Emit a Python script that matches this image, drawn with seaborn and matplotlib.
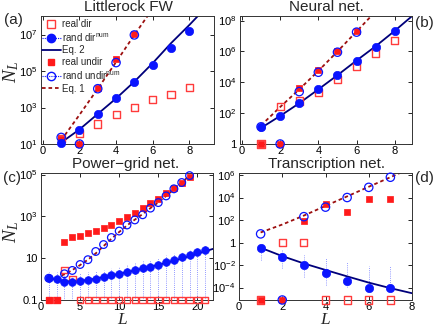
import numpy as np
import pandas as pd
import matplotlib
matplotlib.use("Agg")
import matplotlib.pyplot as plt
import seaborn as sns
from matplotlib.lines import Line2D
from matplotlib.ticker import FixedLocator, FixedFormatter, NullLocator

sns.set_style("ticks")
plt.rcParams["font.family"] = ["Liberation Sans", "DejaVu Sans"]
plt.rcParams["mathtext.fontset"] = "custom"
plt.rcParams["mathtext.rm"] = "Liberation Sans"
plt.rcParams["mathtext.it"] = "Liberation Serif:italic"
plt.rcParams["mathtext.bf"] = "Liberation Sans:bold"

RED = "#ff1a1a"
OPENRED = "#ff3b3b"
BLUE = "#0a14ff"
EBLUE = "#5560ff"
NAVY = "#00007a"
DRED = "#9c0f0f"

# ---------------- data ----------------
# (a) Littlerock FW
a_L = [1, 2, 3, 4, 5, 6, 7, 8]
a_real_dir = [20, 39, 126, 400, 1050, 2650, 5600, 13000]
a_rand_dir = [11, 60, 430, 3200, 27000, 2.2e5, 1.9e6, 1.7e7]
a_Lu = [1, 2, 3, 4, 5]
a_real_undir = [18, 0, 1.15e4, 4.5e5, 1.1e7]
a_rand_undir = [23, 0, 1.1e4, 3.0e5, 1.0e7]
a_eq2_L = [1, 2, 3, 4, 5, 6, 7, 8, 9]
a_eq2 = [12, 63, 450, 3200, 27000, 2.8e5, 3.5e6, 3.5e7, 4e8]
a_eq1_L = [1, 2, 3, 4, 5, 6]
a_eq1 = [16, 400, 1.1e4, 3.2e5, 1.0e7, 2.8e8]

# (b) Neural net.
b_L = [1, 2, 3, 4, 5, 6, 7, 8]
b_real_dir = [0, 265, 615, 2300, 1.5e4, 1.1e5, 8e5, 5.2e6]
b_rand_dir = [12, 66, 440, 3500, 2.9e4, 2.6e5, 2.1e6, 2.2e7]
b_Lu = [1, 2, 3, 4, 5, 6]
b_real_undir = [0, 0, 4500, 6.7e4, 1.1e6, 2.0e7]
b_rand_undir = [13, 0, 2500, 4.5e4, 9e5, 1.8e7]
b_eq2_L = [1, 2, 3, 4, 5, 6, 7, 8, 9]
b_eq2 = [11, 66, 440, 3500, 2.9e4, 2.6e5, 2.2e6, 2.2e7, 2.5e8]
b_eq1_L = [1, 2, 3, 4, 5, 6, 7]
b_eq1 = [16, 250, 3500, 5.5e4, 1.0e6, 2.0e7, 4e8]

# (c) Power-grid net.
c_L = list(range(1, 22))
c_real_dir = [0, 0, 2.8, 1.0] + [0] * 17
c_rand_dir = [1.1, 1.0, 0.76, 0.76, 0.79, 0.92, 1.0, 1.24, 1.5, 1.8, 2.1,
              2.6, 3.4, 4.0, 4.9, 6.6, 8.5, 11.5, 14.7, 20, 25.7]
c_rand_dir_hi = [2.3, 2.3, 2.0, 2.0, 2.0, 2.2, 2.4, 2.8, 3.3, 4.0, 4.7,
                 5.6, 7.0, 8.5, 10.5, 13.5, 17, 22, 28, 36, 45]
c_rand_dir_lo = [0] * 21
c_Lu = list(range(1, 20))
c_real_undir = [0, 0, 60, 100, 120, 155, 200, 280, 400, 600, 950, 1500,
                2500, 4200, 7000, 1.3e4, 2.3e4, 4.2e4, 8e4]
c_rand_undir = [1.1, None, 1.8, 2.6, 5.0, 8.5, 21, 45, 98, 200, 390, 680,
                1200, 2500, 4600, 9600, 2.1e4, 4.2e4, 9e4]
c_eq2_L = list(range(1, 23))
c_eq2 = [1.1, 0.95, 0.8, 0.78, 0.82, 0.92, 1.05, 1.25, 1.5, 1.8, 2.15,
         2.6, 3.2, 3.9, 4.8, 6.0, 7.6, 9.8, 12.5, 16.5, 21.5, 28]
c_eq1_L = list(range(1, 20))
c_eq1 = [1.1, 1.2, 1.7, 2.7, 4.7, 8.5, 17, 38, 85, 180, 370, 700,
         1300, 2500, 4700, 9500, 2.0e4, 4.2e4, 9e4]

# (d) Transcription net.
d_L = [1, 2, 3, 4, 5, 6, 7]
d_real_dir = [0, 1.0, 1.0, 0, 0, 0, 0]
d_rand_dir = [0.36, 0.057, 0.0104, 0.0019, 4e-4, 9e-5, 9e-5]
d_rand_dir_hi = [0.87, 0.26, 0.081, 0.041, 0.02, 0.0085, 0.0085]
d_rand_dir_lo = [0.029, 0.0053, 9.6e-4, 1.7e-4, 1.25e-4, 4.5e-5, 5e-5]
d_real_undir = [0, 0, 83, 2500, 560, 7500, 7500]
d_rand_undir = [5.9, 0, 200, 1400, 1.0e4, 8e4, 6.3e5]
d_eq2_L = [1, 2, 3, 4, 5, 6, 7, 8]
d_eq2 = [0.35, 0.063, 0.014, 0.0037, 1.0e-3, 2.8e-4, 9e-5, 3.2e-5]
d_eq1_L = [1, 2, 3, 4, 5, 6, 7, 8]
d_eq1 = [7.9, 40, 250, 1800, 1.26e4, 9e4, 6.3e5, 4.5e6]

W, H = 436, 327
fig = plt.figure(figsize=(W / 100, H / 100), dpi=100)


def rect(l, t, r, b):
    return [l / W, 1 - b / H, (r - l) / W, (b - t) / H]


def markers(ax, x, y, ymin, marker, size, face, edge, lw=1.0, z=3):
    pts = [(xi, (yi if yi > 0 else ymin)) for xi, yi in zip(x, y)
           if yi is not None]
    xx = [p[0] for p in pts]
    yy = [p[1] for p in pts]
    sns.scatterplot(x=xx, y=yy, marker=marker, s=size, facecolor=face,
                    edgecolor=edge, linewidth=lw, ax=ax, clip_on=False,
                    zorder=z, legend=False)


def setup(ax, xlim, ylim, xt, yt, ytl, xtl=None):
    ax.set_yscale("log")
    ax.set_xlim(*xlim)
    ax.set_ylim(*ylim)
    ax.xaxis.set_major_locator(FixedLocator(xt))
    ax.xaxis.set_major_formatter(FixedFormatter(xtl if xtl else [str(v) for v in xt]))
    ax.xaxis.set_minor_locator(NullLocator())
    ax.yaxis.set_major_locator(FixedLocator(yt))
    ax.yaxis.set_major_formatter(FixedFormatter(ytl))
    ax.yaxis.set_minor_locator(NullLocator())
    ax.tick_params(direction="in", length=3, width=0.6, labelsize=8,
                   top=True, right=True, pad=2.5, colors="black")
    ax.tick_params(axis="x", pad=1.5)
    for s in ax.spines.values():
        s.set_linewidth(0.7)
        s.set_color("#333333")
    ax.set_xlabel("")
    ax.set_ylabel("")


def panel(ax, Ld, real_dir, rand_dir, Lu, real_undir, rand_undir,
          e2L, e2, e1L, e1, ylim, hi=None, lo=None, ms=1.0):
    ymin = ylim[0]
    sns.lineplot(x=e2L, y=e2, color=NAVY, lw=1.3, ax=ax, zorder=2,
                 legend=False)
    sns.lineplot(x=e1L, y=e1, color=DRED, lw=1.3, ax=ax, zorder=2,
                 linestyle=(0, (2.0, 1.6)), legend=False)
    if hi is not None:
        yv = np.array(rand_dir, float)
        eb = ax.errorbar(Ld, yv, yerr=[yv - np.array(lo), np.array(hi) - yv],
                         fmt="none", ecolor=EBLUE, elinewidth=0.55, capsize=0,
                         zorder=1)
        eb[2][0].set_linestyle((0, (1, 1.8)))
    markers(ax, Ld, real_dir, ymin, "s", 26 * ms, "none", OPENRED, 1.0, 3)
    markers(ax, Lu, real_undir, ymin, "s", 22 * ms, RED, RED, 0.5, 4)
    markers(ax, Ld, rand_dir, ymin, "o", 36 * ms, BLUE, BLUE, 0.5, 5)
    markers(ax, Lu, rand_undir, ymin, "o", 36 * ms, "none", BLUE, 0.9, 6)


# (a)
axa = fig.add_axes(rect(41, 16, 214, 144))
panel(axa, a_L, a_real_dir, a_rand_dir, a_Lu, a_real_undir, a_rand_undir,
      a_eq2_L, a_eq2, a_eq1_L, a_eq1, (10, 1.1e8))
setup(axa, (-0.1, 9.35), (10, 1.1e8), [0, 2, 4, 6, 8],
      [10, 1e3, 1e5, 1e7], [r"$10^{1}$", r"$10^{3}$", r"$10^{5}$", r"$10^{7}$"])

handles = [
    Line2D([], [], ls="none", marker="s", mfc="none", mec=OPENRED, ms=5.5, mew=1.0),
    Line2D([], [], color=BLUE, ls=(0, (1, 1)), lw=0.8, marker="o", mfc=BLUE, mec=BLUE, ms=6),
    Line2D([], [], color=NAVY, lw=1.3),
    Line2D([], [], ls="none", marker="s", mfc=RED, mec=RED, ms=5),
    Line2D([], [], color=BLUE, ls=(0, (1, 1)), lw=0.8, marker="o", mfc="none", mec=BLUE, ms=6),
    Line2D([], [], color=DRED, lw=1.3, ls=(0, (2.0, 1.6))),
]
labels = ["real dir", r"rand dir$^{\rm num}$", "Eq. 2", "real undir",
          r"rand undir$^{\rm num}$", "Eq. 1"]
axa.legend(handles, labels, loc="upper left", frameon=False, fontsize=7,
           handlelength=1.9, handletextpad=0.15, labelspacing=0.22,
           borderaxespad=0.1, borderpad=0.2, bbox_to_anchor=(-0.01, 1.0))

# (b)
axb = fig.add_axes(rect(240, 16, 412, 144))
panel(axb, b_L, b_real_dir, b_rand_dir, b_Lu, b_real_undir, b_rand_undir,
      b_eq2_L, b_eq2, b_eq1_L, b_eq1, (1, 2e8))
setup(axb, (-0.1, 8.9), (1, 2e8), [0, 2, 4, 6, 8],
      [1, 1e2, 1e4, 1e6, 1e8], ["1", r"$10^{2}$", r"$10^{4}$", r"$10^{6}$", r"$10^{8}$"])

# (c)
axc = fig.add_axes(rect(41, 173, 213, 300))
panel(axc, c_L, c_real_dir, c_rand_dir, c_Lu, c_real_undir, c_rand_undir,
      c_eq2_L, c_eq2, c_eq1_L, c_eq1, (0.1, 1.2e5), hi=c_rand_dir_hi,
      lo=c_rand_dir_lo, ms=0.85)
setup(axc, (0, 22), (0.1, 1.2e5), [0, 5, 10, 15, 20],
      [0.1, 10, 1e3, 1e5], ["0.1", "10", r"$10^{3}$", r"$10^{5}$"])

# (d)
axd = fig.add_axes(rect(239, 173, 412, 300))
panel(axd, d_L, d_real_dir, d_rand_dir, d_L, d_real_undir, d_rand_undir,
      d_eq2_L, d_eq2, d_eq1_L, d_eq1, (8e-6, 1.5e6), hi=d_rand_dir_hi,
      lo=d_rand_dir_lo)
setup(axd, (0, 8), (8e-6, 1.5e6), [0, 2, 4, 6, 8],
      [1e-4, 1e-2, 1, 1e2, 1e4, 1e6],
      [r"$10^{-4}$", r"$10^{-2}$", "1", r"$10^{2}$", r"$10^{4}$", r"$10^{6}$"])

# titles and labels
def ftext(x, y, s, **kw):
    fig.text(x / W, 1 - y / H, s, ha="center", va="center", **kw)

ftext(128, 7, "Littlerock FW", fontsize=11)
ftext(326, 7, "Neural net.", fontsize=11)
ftext(126, 164, "Power\u2212grid net.", fontsize=11)
ftext(326, 164, "Transcription net.", fontsize=11)
ftext(13, 20, "(a)", fontsize=11)
ftext(424, 23, "(b)", fontsize=11)
ftext(12, 178, "(c)", fontsize=11)
ftext(424, 178, "(d)", fontsize=11)
ftext(11, 72, r"$N_L$", fontsize=14, rotation=90)
ftext(11, 232, r"$N_L$", fontsize=14, rotation=90)
ftext(123, 319.5, r"$L$", fontsize=12.5)
ftext(326, 319.5, r"$L$", fontsize=12.5)

fig.savefig("out.png", dpi=100)
